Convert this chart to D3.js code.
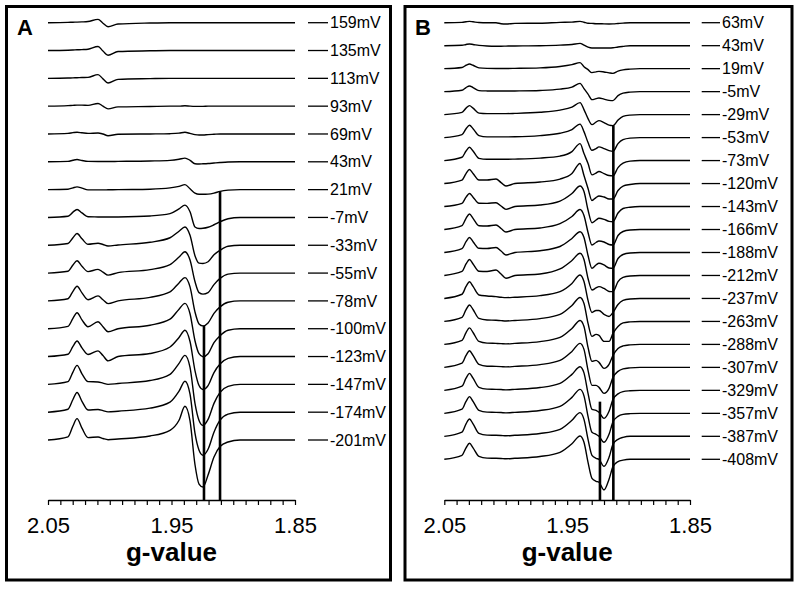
<!DOCTYPE html>
<html>
<head>
<meta charset="utf-8">
<script src="https://cdnjs.cloudflare.com/ajax/libs/d3/7.8.5/d3.min.js"></script>
<style>
  body { margin: 0; background: #fff; }
  svg { display: block; }
</style>
</head>
<body>
<div id="chart"></div>
<script>
// redox titration, EPR spectra stacked by potential
var labelsA = ["159mV", "135mV", "113mV", "93mV", "69mV", "43mV", "21mV", "-7mV", "-33mV", "-55mV",
  "-78mV", "-100mV", "-123mV", "-147mV", "-174mV", "-201mV"];
var labelsB = ["63mV", "43mV", "19mV", "-5mV", "-29mV", "-53mV", "-73mV", "-120mV", "-143mV", "-166mV",
  "-188mV", "-212mV", "-237mV", "-263mV", "-288mV", "-307mV", "-329mV", "-357mV", "-387mV", "-408mV"];

// g positions where each spectrum was read
var gA = [2.050, 2.0338, 2.0298, 2.0265, 2.0225, 2.0176, 2.0095, 2.0055, 2.0014, 1.9933, 1.9674, 1.9512,
  1.9439, 1.9391, 1.9350, 1.9310, 1.9277, 1.9245, 1.9204, 1.9156, 1.9107, 1.9042, 1.8945, 1.850];
var gB = [2.0500, 2.0356, 2.0323, 2.0295, 2.0266, 2.0218, 2.0152, 2.0079, 2.0038, 1.9998, 1.9925, 1.9721,
  1.9558, 1.9461, 1.9395, 1.9363, 1.9330, 1.9298, 1.9265, 1.9241, 1.9200, 1.9159, 1.9127, 1.9086,
  1.9045, 1.8988, 1.8907, 1.8500];

// signal (a.u.) at those g values
var spectraA = [
  [0, 0.3, 0.5, 0.6, 0.8, 1.2, 3.3, -0.5, -4, -1.3, -0.3, 0, 0, 0, 0, 0, 0, 0, 0, 0, 0, 0, 0, 0],
  [0, 0.3, 0.5, 0.7, 0.9, 1.3, 4, -0.5, -4.7, -1, -0.3, 0, 0, 0, 0, 0, 0, 0, 0, 0, 0, 0, 0, 0],
  [0, 0.3, 0.5, 0.6, 0.8, 1.0, 3.7, -0.5, -4.7, -1, -0.3, 0, 0, 0, 0, 0, 0, 0, 0, 0, 0, 0, 0, 0],
  [0, 0.5, 0.8, 1.0, 1.0, 0.8, 2.7, 0, -2.7, -0.7, -0.3, 0, 0, 0.4, 0, -0.2, -0.2, -0.2, 0, 0, 0, 0, 0, 0],
  [0, 0.6, 1.3, 1.7, 1.2, 0.6, 1.0, 0, -1.7, -0.3, 0, 0.3, 0.8, 1.7, 0.6, -0.6, -1.0, -1.0, -0.6, -0.3, 0, 0, 0, 0],
  [0, 0.4, 1.6, 2.3, 1.3, 0.4, 0.3, 0.3, 0.3, 0.4, 0.8, 1.4, 2.5, 3.7, 1.5, -2.0, -2.2, -2.0, -1.7, -1.2, -0.7, -0.2, 0, 0],
  [0, 0.4, 1.8, 2.7, 1.5, -0.3, -0.3, -0.3, -0.2, 0, 0.4, 1.7, 3.3, 5, 0.8, -3.5, -4.7, -4.7, -4.5, -3.5, -1.7, -0.5, 0, 0],
  [0, 1.2, 5.3, 8, 4.5, 0.7, 0.5, 0.4, 0.4, 0.5, 1.5, 3.8, 8.5, 12.3, 5.7, -9.5, -11, -10.8, -9.8, -7.3, -4.3, -1.3, 0, 0],
  [0, 1.8, 7.6, 11.7, 6.5, 1, 2, 0.8, -0.7, 0.3, 3, 7.5, 14, 18.3, 10, -10.4, -17.8, -18.2, -16.5, -9.5, -5, -1, 0, 0],
  [0, 1.8, 8, 12.3, 6.8, 1.5, 3.7, 1, -2, 0.5, 3.5, 8.5, 16, 21.3, 13, -8.4, -19.5, -21, -19.5, -11.5, -5.3, -1, 0, 0],
  [0, 2.2, 9.6, 14.7, 8, 1.2, 5, 1.2, -2.7, 0, 3.5, 9, 18, 23.3, 14, -11, -23, -25, -22, -12.5, -6, -1.3, 0, 0],
  [0, 2.4, 10.4, 16, 8.8, 2, 7, 2, -3, 0, 3.5, 9.5, 19.5, 25.3, 15, -12, -25, -28, -25, -14, -7, -1.5, 0, 0],
  [0, 2.3, 10.1, 15.6, 8.6, 2, 5.7, 1, -4.3, 0, 3, 9.5, 19, 26.3, 15, -14, -29, -33, -29, -16, -7.5, -1.8, 0, 0],
  [0, 2.8, 12.3, 19, 10.5, 2.7, 2.4, 1.2, 0, 0.8, 3.8, 10, 21, 29, 17, -19, -36, -41, -35, -19, -8, -2, 0, 0],
  [0, 2.9, 12.7, 19.6, 10.8, 2.2, 2.7, 1.5, 0.3, 1, 4, 10, 21, 30.9, 18, -21, -38, -43, -37, -20, -8, -2, 0, 0],
  [0, 3.2, 14, 21.4, 11.8, 2.4, 3, 1.5, 0.3, 1, 4, 9.7, 19.7, 33.7, 19, -24.5, -44, -47, -35, -17, -6.5, -2, 0, 0]
];

var spectraB = [
  [0, 0.3, 0.9, 1.3, 0.9, 0.2, 0, 0, -1, -1.3, -0.7, -0.5, 0.3, 0.6, 1.3, 0.5, -0.5, -0.7, -1, -1, -1.2, -1.3, -1.2, -0.8, -0.4, 0, 0, 0],
  [0, 0.4, 1.2, 1.7, 1.2, 0.3, -0.3, -0.5, -0.5, -0.4, -0.3, 0, 0.6, 1.2, 2.3, 0.5, -1.5, -2.3, -2.3, -2.3, -2.3, -2.3, -2.1, -1.3, -0.7, 0, 0, 0],
  [0, 1.2, 3.4, 4.7, 3.4, 0.8, 0.3, 0.2, 0.2, 0.2, 0.3, 0.8, 2.2, 4, 6, 2, -1, -4, -3.2, -2.7, -3.3, -4.2, -4.7, -2.5, -1.2, -0.5, 0, 0],
  [0, 1.4, 4.1, 5.7, 4.1, 1, 0.7, 0.6, 0.6, 0.6, 0.7, 1.2, 2.5, 4.5, 8.3, 3, -2.5, -8, -7, -6.3, -7.5, -8.7, -9, -4, -1.5, -0.5, 0, 0],
  [0, 2.2, 6.5, 9, 6.5, 1.5, 1, 1, 1, 1, 1.2, 2.3, 4.5, 7.5, 12, 5, -4, -10, -7.5, -6, -8, -10.5, -11, -5.5, -1.8, -0.5, 0, 0],
  [0, 3, 8.9, 12.3, 8.9, 2, 0.7, 0.7, 0.7, 0.7, 0.8, 2, 4.3, 8, 13.5, 6, -5, -12.7, -11, -9.3, -11, -13, -13.7, -6, -2, -0.5, 0, 0],
  [0, 3.3, 9.6, 13.3, 9.6, 2.2, 1.3, 1.3, 1.3, 1.3, 1.5, 2.5, 4.5, 9, 17, 7, -3, -14.3, -12.5, -11, -13, -15, -15.3, -7, -2.5, -0.5, 0, 0],
  [0, 3.5, 10, 14, 10, 3.5, 3.5, 4.5, 1, -2.4, 0, 1.5, 4.5, 10, 20, 8, -5, -17, -14, -12.4, -13.5, -15.5, -15.5, -7, -2.5, -1, 0, 0],
  [0, 3.2, 9.4, 13, 9.4, 3.3, 3.2, 3.8, 0.5, -2.8, 0, 1.5, 5.5, 13, 20.5, 15, -3.5, -16.2, -13.5, -11.8, -12.8, -14.8, -15.2, -6.5, -2, -0.7, 0, 0],
  [0, 3.9, 11.2, 15.5, 11.2, 3.8, 3.5, 4.5, 1, -2.5, 0, 1.5, 5.8, 13, 20, 14, -3, -15.5, -13, -11.5, -12.5, -15, -15.5, -6, -2, -0.5, 0, 0],
  [0, 3.8, 10.8, 15, 10.8, 4.2, 4, 5, 1.5, -2.5, 0, 1.8, 6, 14, 20.8, 15, -3, -15.8, -12.5, -10.8, -12.5, -15.5, -15.8, -6, -2, -0.5, 0, 0],
  [0, 4, 11.5, 16, 11.5, 4.2, 4, 5.5, 1.5, -2.8, 0, 1.5, 6.5, 15, 22.2, 16, -3, -14.5, -12.5, -11.2, -13, -16, -16.2, -6.2, -2, -0.5, 0, 0],
  [0, 4.2, 12, 16.7, 12, 3.5, 2.5, 1.8, 1.2, 0.8, 1.2, 2.8, 6.8, 15, 23.5, 17, -2, -14, -12, -12, -16, -18, -14, -6, -2, -0.5, 0, 0],
  [0, 4.1, 11.9, 16.5, 11.9, 3, 1.5, 1.2, 0.8, 0.5, 1, 2.8, 7, 16, 24, 18, -2, -15, -13, -14, -20, -20, -12, -5, -1.5, -0.5, 0, 0],
  [0, 4.1, 11.9, 16.5, 11.9, 3, 1.3, 1, 0.8, 0.5, 1, 2.8, 7, 16, 24, 18, -3, -17, -16, -18, -24, -20, -11, -4, -1.5, -0.5, 0, 0],
  [0, 4.2, 12, 16.7, 12, 3, 1.2, 1, 0.8, 0.5, 1, 2.8, 7, 16, 24, 18, -3, -18, -18, -20, -26, -21, -10, -4, -1.5, -0.5, 0, 0],
  [0, 4.2, 12.2, 17, 12.2, 3, 1.2, 1, 0.8, 0.5, 1, 2.8, 7, 16, 23.7, 17.5, -3, -19, -20, -22, -28, -21, -9, -3.5, -1.2, -0.4, 0, 0],
  [0, 4.2, 12, 16.7, 12, 3, 1.2, 1, 0.8, 0.5, 1, 2.8, 7, 16, 24, 17.5, -3, -19, -21, -23, -29, -21, -8.5, -3, -1, -0.3, 0, 0],
  [0, 4.3, 12.5, 17.3, 12.5, 3, 1.2, 1, 0.8, 0.5, 1, 2.8, 7, 16, 23.7, 17, -3, -19, -22, -23, -30, -21, -8, -3, -1, 0, 0, 0],
  [0, 4, 11.5, 16, 11.5, 3, 1.2, 1, 0.8, 0.5, 1, 2.8, 7, 15.5, 23.3, 17, -3, -19, -22, -23, -30.7, -20, -7.3, -2.3, -0.8, 0, 0, 0]
];

// vertical marker lines: g value, trace they start from, signal level there
var markersA = [{g: 1.9107, trace: 6, level: -1.7}, {g: 1.9237, trace: 10, level: -25}];
var markersB = [{g: 1.9124, trace: 4, level: -11}, {g: 1.9233, trace: 16, level: -11.3}];

var gTicks = [2.05, 2.04, 2.03, 2.02, 2.01, 2.00, 1.99, 1.98, 1.97, 1.96, 1.95, 1.94, 1.93, 1.92, 1.91, 1.90, 1.89, 1.88, 1.87, 1.86, 1.85];
var gMajor = [2.05, 1.95, 1.85];
var gMajorLabels = ["2.05", "1.95", "1.85"];

var width = 800, height = 592;
var svg = d3.select('#chart')
  .append('svg')
    .attr('width', width)
    .attr('height', height)
    .style('font-family', '"Liberation Sans", Arial, sans-serif');

function drawPanel(p) {
  var panel = svg.append('g');

  panel.append('rect')
      .attr('x', p.box[0]).attr('y', p.box[1])
      .attr('width', p.box[2]).attr('height', p.box[3])
      .attr('fill', 'none')
      .attr('stroke', '#000')
      .attr('stroke-width', 3);

  var x = d3.scaleLinear().domain([2.05, 1.85]).range([p.left, p.right]);
  var y = d3.scaleLinear()
      .domain([0, -(p.labels.length - 1) * p.step])
      .range([p.top, p.bottom]);

  var line = d3.line()
      .x(function(d) { return x(d[0]); })
      .y(function(d) { return y(d[1]); })
      .curve(d3.curveMonotoneX);

  p.spectra.forEach(function(s, i) {
    var pts = p.g.map(function(gv, j) { return [gv, -i * p.step + s[j]]; });
    panel.append('path')
        .attr('d', line(pts))
        .attr('fill', 'none')
        .attr('stroke', '#000')
        .attr('stroke-width', 1.4);
  });

  // potential labels with leader dash
  var lab = panel.append('g').selectAll('g')
    .data(p.labels)
    .enter().append('g')
      .attr('transform', function(d, i) { return 'translate(0,' + y(-i * p.step) + ')'; });
  lab.append('line')
      .attr('x1', p.lead[0]).attr('x2', p.lead[1])
      .attr('stroke', '#000').attr('stroke-width', 1.3);
  lab.append('text')
      .attr('x', p.lead[1] + 2)
      .attr('dy', '0.35em')
      .attr('font-size', 16)
      .text(function(d) { return d; });

  panel.selectAll('.marker')
    .data(p.markers)
    .enter().append('line')
      .attr('x1', function(d) { return x(d.g); })
      .attr('x2', function(d) { return x(d.g); })
      .attr('y1', function(d) { return y(-d.trace * p.step + d.level); })
      .attr('y2', p.axisY)
      .attr('stroke', '#000')
      .attr('stroke-width', 2.6);

  var ax = panel.append('g')
      .attr('transform', 'translate(0,' + p.axisY + ')')
      .call(d3.axisBottom(x)
        .tickValues(gTicks)
        .tickSize(5)
        .tickSizeOuter(0)
        .tickPadding(12)
        .tickFormat(function(d) {
          var k = gMajor.findIndex(function(m) { return Math.abs(m - d) < 1e-6; });
          return k < 0 ? '' : gMajorLabels[k];
        }));
  ax.select('.domain').attr('stroke-width', 1.3);
  ax.selectAll('.tick line').attr('stroke-width', 1.2);
  ax.selectAll('text')
      .attr('font-size', 22)
      .attr('font-family', '"Liberation Sans", Arial, sans-serif')
      .attr('fill', '#000');

  panel.append('text')
      .attr('x', (p.left + p.right) / 2)
      .attr('y', p.axisY + 61)
      .attr('text-anchor', 'middle')
      .attr('font-size', 26)
      .attr('font-weight', 'bold')
      .text('g-value');

  panel.append('text')
      .attr('x', p.letter[0])
      .attr('y', p.letter[1])
      .attr('font-size', 22)
      .attr('font-weight', 'bold')
      .text(p.name);
}

drawPanel({
  name: 'A', box: [6.5, 6.5, 384, 573.5], letter: [17, 35],
  left: 48, right: 295, top: 22.7, bottom: 440, axisY: 500,
  step: 27.8, lead: [308, 328],
  labels: labelsA, g: gA, spectra: spectraA, markers: markersA
});

drawPanel({
  name: 'B', box: [405, 6.5, 387, 573.5], letter: [415, 35],
  left: 444.3, right: 690, top: 22.7, bottom: 459.3, axisY: 500,
  step: 23, lead: [701.7, 720],
  labels: labelsB, g: gB, spectra: spectraB, markers: markersB
});
</script>
</body>
</html>
